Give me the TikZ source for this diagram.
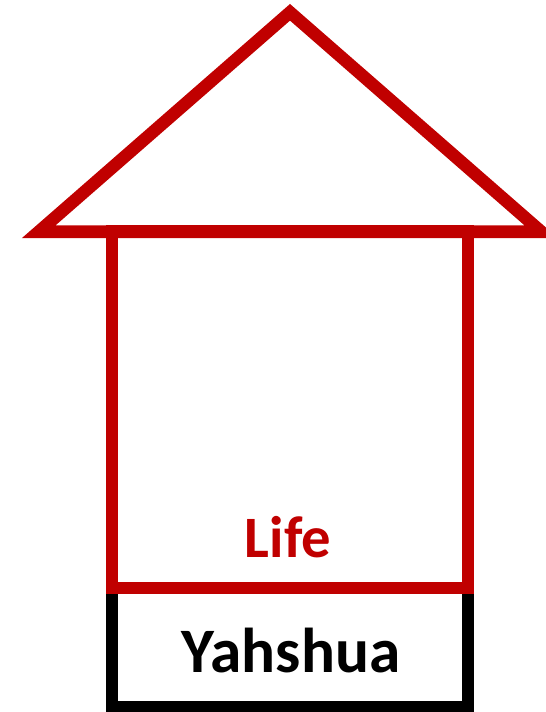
\documentclass[tikz,border=0pt]{standalone}
\usepackage{fontspec}
\setmainfont{Carlito}
\usepackage{xcolor}
\definecolor{housered}{HTML}{C00000}

\begin{document}
\begin{tikzpicture}[x=0.75pt, y=-0.75pt,
    wall/.style={line width=9.4pt, miter limit=10},
    label/.style={font=\bfseries\fontsize{44}{50}\selectfont, anchor=base}]
    \useasboundingbox (0,0) rectangle (545,712);
    \coordinate (roofL) at (38.7,231.75);
    \coordinate (roofT) at (290,12.3);
    \coordinate (roofR) at (541.3,231.75);
    \coordinate (baseL) at (112,707);
    \coordinate (baseR) at (468,707);
    \draw[wall, black] (112,588) -- (baseL) -- (baseR) -- (468,588);
    \draw[wall, housered] (112,231.75) rectangle (468,588);
    \draw[wall, housered] (roofL) -- (roofT) -- (roofR) -- cycle;
    \node[label, text=housered] (life) at (288,557) {Life};
    \node[label, text=black, font=\bfseries\fontsize{47.5}{54}\selectfont]
      (yahshua) at (291,672) {Yahshua};
  \end{tikzpicture}
\end{document}
